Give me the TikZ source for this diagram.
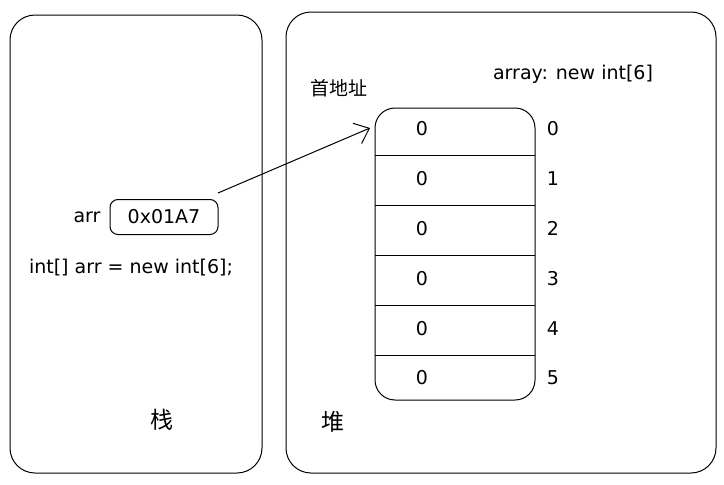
\documentclass[tikz,border=0pt]{standalone}
\usepackage{fontspec}
\setmainfont{DejaVu Sans}
\newfontfamily\cjk{Noto Sans CJK SC}
\usetikzlibrary{arrows.meta}
\tikzset{
	panel/.style={line width=1pt, rounded corners=25pt},
	cell/.style={font=\fontsize{19}{22}\selectfont},
	addrbox/.style={draw, line width=1pt, rounded corners=8pt, minimum width=108pt, minimum height=35pt}
}
\begin{document}
\begin{tikzpicture}[x=1pt, y=-1pt, font=\fontsize{19}{22}\selectfont]
	\useasboundingbox (0,0) rectangle (724,485);
	% stack and heap
	\draw[panel] (10,15) rectangle (262,473);
	\draw[panel] (286,12) rectangle (716,473);
	\node (stack) at (162,420) {\cjk\fontsize{23}{26}\selectfont 栈};
	\node (heap) at (333,422) {\cjk\fontsize{23}{26}\selectfont 堆};
	
	\node (arrlbl) at (87,217) {arr};
	\node[addrbox] (addr) at (164,217) {0x01A7};
	\node (code) at (131,268) {int[] arr = new int[6];};
	
	% the array
	\node (first) at (339,88) {\cjk\fontsize{19}{22}\selectfont 首地址};
	\node (decl) at (573,74) {array: new int[6]};
	\draw[line width=1pt, rounded corners=20pt] (375,108) rectangle (535,400);
	\foreach \k in {1,...,5}
		\draw[line width=1pt] (375,105+\k*50) -- (535,105+\k*50);
	\foreach \k in {0,...,5} {
		\node[cell] (v\k) at (422,129+\k*49.8) {0};
		\node[cell] (i\k) at (553,129+\k*49.8) {\k};
	}
	
	\coordinate (from) at (218,193);
	\coordinate (to) at (370,128);
	\draw[line width=1pt, -{Straight Barb[length=13pt, width=22pt]}] (from) -- (to);
\end{tikzpicture}
\end{document}
